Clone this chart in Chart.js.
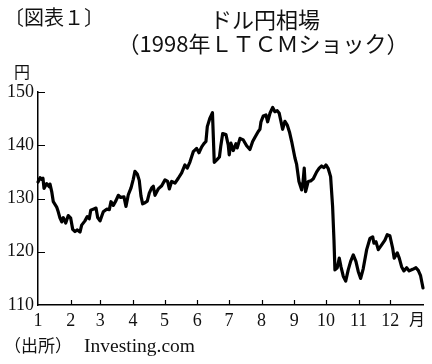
<!DOCTYPE html>
<html><head><meta charset="utf-8">
<script src="https://cdn.jsdelivr.net/npm/chart.js@4/dist/chart.umd.min.js"></script>
<style>
html,body{margin:0;padding:0;background:#fff;}
#wrap{position:relative;width:432px;height:364px;overflow:hidden;}
canvas{position:absolute;left:0;top:0;}
.t{position:absolute;white-space:nowrap;color:#111;line-height:1;}
.jp{font-family:"Noto Sans CJK JP",sans-serif;}
.sr{font-family:"Liberation Serif",serif;}
</style></head>
<body><div id="wrap">
<canvas id="c" width="432" height="364"></canvas>
<div class="t jp" style="left:4px;top:7px;font-size:20px;">〔図表１〕</div>
<div class="t jp" style="left:0;width:530px;text-align:center;top:7px;font-size:22px;">ドル円相場</div>
<div class="t jp" style="left:0;width:526px;text-align:center;top:31px;font-size:22px;">（1998年ＬＴＣＭショック）</div>
<div class="t jp" style="left:14px;top:63px;font-size:16px;">円</div>
<div class="t jp" style="left:409px;top:310px;font-size:16px;">月</div>
<div class="t" style="left:4px;top:336px;font-size:17px;"><span class="jp">（出所）</span><span class="sr" style="font-size:19.5px;margin-left:12px;">Investing.com</span></div>
</div>
<script>
const monthStartDays = [0,31,59,90,120,151,181,212,243,273,304,334];
const monthLabels = ['1','2','3','4','5','6','7','8','9','10','11','12'];
const yTicks = [110,120,130,140,150];
const days = [0,2,3.5,4.7,5.7,8.2,10.7,11.4,13,14.5,17.7,19.2,20.9,22.5,24,26.3,28.7,31,32.9,35.1,37.3,39.8,41.4,44.5,46.7,48.6,50,52.4,55,56.6,58.8,61.9,65.1,67.6,69.2,71.4,73.9,76.1,78.4,81.5,83.4,85.6,88.2,90.3,91.9,94.1,96,97.6,99.2,101.4,103.6,105.5,107.8,109.3,110.9,114,117.3,120.4,122.9,124.5,126.7,129.9,133,136.2,139.3,141.5,144.1,147.2,150.4,152.6,155.2,157.3,159.2,160.5,163,165.4,167.1,169.7,172,173.2,175.1,178.2,180.4,181.3,182.9,185.1,187.7,188.9,191.5,194.6,197.8,200.9,203.5,205.7,208.8,210.4,211.4,213.6,216.1,217.7,219.9,222.5,224.6,226.8,228.7,230.3,231.9,234.1,236.3,238.4,240.5,243.6,245.2,247.4,250,251.2,252.4,253.7,256.2,258.5,261,264.2,266.6,268.9,271.1,273,275.2,277.4,279.3,280.6,281.5,283.7,285.6,287.2,289.4,291.7,294.1,296.4,298.9,301.4,303.6,305.9,308.3,311.6,314.7,317.3,318.5,320.4,322.6,325.8,328.9,331.1,333.6,336.2,337.7,340.6,342.5,344.7,346.9,349.5,351.9,355.2,358.3,360.5,362.7,365];
const usdjpy = [133.1,133.9,133.6,133.8,131.9,132.8,132.2,132.7,131.3,129.4,128.4,127.5,126.3,125.6,126.4,125.4,126.8,126.3,124.2,123.8,124.1,123.7,125,125.8,126.6,126.2,127.8,128,128.2,126.4,125.8,127.5,128,127.9,129.4,128.7,129.6,130.6,130.2,130.3,128.5,130.7,132,133.6,135.1,134.6,133.4,130.5,129,129.2,129.5,131,132,132.3,130.6,131.8,132.4,133.5,133.2,131.8,133.2,132.9,133.8,134.8,136.3,135.7,136.9,138.8,139.4,138.6,139.7,140.3,140.7,143.5,145.1,146.1,136.8,137.3,137.8,139.7,142.2,142,140,138.2,140.4,139,140.3,139.5,141.3,141,139.9,139.2,140.7,141.5,142.6,143,144.4,145.5,145.7,144.4,146,147.1,146.3,146.5,146,144.5,143,144.5,143.8,142.5,140.7,137.6,136.4,133.2,131.6,133,135.7,131.3,133.2,133.3,133.7,135,135.7,136.1,135.8,136.3,135.6,134.1,128.5,122.2,116.6,117,118.8,117.2,115.4,114.5,116.6,118.2,119.4,118.2,116.3,115,116.8,120.4,122.5,122.8,121.6,121.9,120.4,121.3,122.2,123.2,123,120.7,118.8,119.8,118.8,117.2,116.4,117,116.4,116.7,117,116.5,115.5,113.2];

const points = days.map((d,i)=>({x:d,y:usdjpy[i]}));

const innerTicks = {
  id:'innerTicks',
  afterDraw(chart){
    const {ctx, scales:{x,y}, chartArea:a} = chart;
    ctx.save();
    ctx.strokeStyle='#000'; ctx.lineWidth=1.2;
    ctx.beginPath();
    x.ticks.forEach(t=>{ if(t.value===0) return; const px=Math.round(x.getPixelForValue(t.value))+0.5; ctx.moveTo(px,a.bottom); ctx.lineTo(px,a.bottom-5); });
    y.ticks.forEach(t=>{ if(t.value===110) return; const py=Math.round(y.getPixelForValue(t.value))+0.5; ctx.moveTo(a.left,py); ctx.lineTo(a.left+7,py); });
    ctx.stroke();
    ctx.restore();
  }
};

new Chart(document.getElementById('c'),{
  type:'line',
  data:{datasets:[{data:points,borderColor:'#000',borderWidth:3.2,pointRadius:0,tension:0,borderJoinStyle:'round',borderCapStyle:'round',clip:false}]},
  options:{
    responsive:false,animation:false,
    layout:{padding:{top:92,right:9,left:0,bottom:0}},
    plugins:{legend:{display:false},tooltip:{enabled:false},title:{display:false}},
    scales:{
      x:{type:'linear',min:0,max:365,
        afterBuildTicks:s=>{s.ticks=monthStartDays.map(v=>({value:v}));},
        ticks:{autoSkip:false,maxRotation:0,padding:5,color:'#111',font:{family:'Liberation Serif',size:18},
          callback:v=>{const i=monthStartDays.indexOf(v);return i>=0?monthLabels[i]:'';}},
        grid:{display:false,drawTicks:false},
        border:{display:true,color:'#000',width:1.5},
        afterFit:s=>{s.height=59;}
      },
      y:{min:110,max:150,
        afterBuildTicks:s=>{s.ticks=yTicks.map(v=>({value:v}));},
        ticks:{padding:4,color:'#111',font:{family:'Liberation Serif',size:18}},
        grid:{display:false,drawTicks:false},
        border:{display:true,color:'#000',width:1.5},
        afterFit:s=>{s.width=38;}
      }
    }
  },
  plugins:[innerTicks]
});
</script>
</body></html>
